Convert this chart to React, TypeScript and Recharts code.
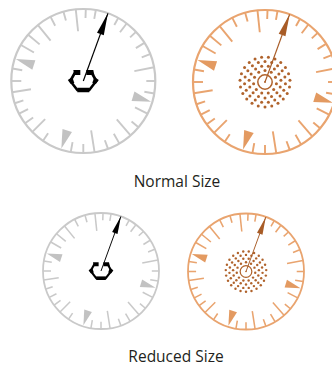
import { ScatterChart, Scatter, XAxis, YAxis } from "recharts";

// dial marks, degrees clockwise from 12 o'clock
const tickAngles = [2, 10, 29, 37, 47, 58, 68, 79, 90, 100, 117, 130, 139, 150, 160, 171, 180, 190, 214, 225, 234, 243, 252, 261, 270, 280, 300, 310, 321, 333, 344, 354];
// tick length in px at normal size
const tickLengths = [9, 9, 8, 11, 8, 10, 9, 20, 9, 10, 14, 9, 21, 11, 9, 22, 9, 10, 9, 18, 10, 10, 9, 19, 10, 10, 15, 15, 20, 10, 9, 22];
const markerAngles = [288, 107, 198];
const needleAngle = 20;
// stipple rings around the orange hub (radius px, dot count)
const dotRadii = [11.5, 16, 20.5, 25];
const dotCounts = [11, 15, 19, 23];
const captions = ["Normal Size", "Reduced Size"];

const W = 332;
const H = 368;

const PALETTE = {
  gray: { ring: "#c9c9c9", marker: "#c2c2c2", needle: "#000000", hub: "#000000" },
  orange: { ring: "#e9a46f", marker: "#e39a61", needle: "#a85c27", hub: "#b0632c" },
};

type Kind = "gray" | "orange";
type Dial = { cx: number; cy: number; r: number; s: number; kind: Kind };

const dials: Dial[] = [
  { cx: 83.3, cy: 81, r: 72, s: 1, kind: "gray" },
  { cx: 265, cy: 82, r: 72, s: 1, kind: "orange" },
  { cx: 101, cy: 271, r: 58, s: 0.8, kind: "gray" },
  { cx: 246, cy: 271.5, r: 58, s: 0.81, kind: "orange" },
];

const rad = (deg: number) => (deg * Math.PI) / 180;
const onDial = (d: Dial, deg: number, dist: number) => ({
  x: d.cx + dist * Math.sin(rad(deg)),
  y: d.cy - dist * Math.cos(rad(deg)),
});

const ringData = dials.map((d) => ({ x: d.cx, y: d.cy, d }));
const tickData = dials.flatMap((d) =>
  tickAngles.map((a, i) => ({ ...onDial(d, a, d.r), angle: a, len: tickLengths[i] * d.s, d }))
);
const markerData = dials.flatMap((d) =>
  markerAngles.map((a) => ({ ...onDial(d, a, d.r - 1), angle: a, d }))
);
const needleData = dials.map((d) => ({ ...onDial(d, needleAngle, d.r), angle: needleAngle, d }));
const hubData = dials.map((d) => ({ x: d.cx, y: d.cy, d }));
const dotData = dials
  .filter((d) => d.kind === "orange")
  .flatMap((d) =>
    dotRadii.flatMap((rr, i) =>
      Array.from({ length: dotCounts[i] }, (_, k) =>
        ({ ...onDial(d, (360 / dotCounts[i]) * (k + (i % 2) * 0.5), rr * d.s), d })
      )
    )
  );
const captionData = [
  { x: 177, y: 187, text: captions[0] },
  { x: 176, y: 362, text: captions[1] },
];

const RingShape = (p: any) => {
  const d: Dial = p.payload.d;
  return (
    <circle cx={p.cx} cy={p.cy} r={d.r} fill="none" stroke={PALETTE[d.kind].ring} strokeWidth={2.2 * d.s} />
  );
};

const TickShape = (p: any) => {
  const { angle, len, d } = p.payload;
  const a = rad(angle);
  return (
    <line
      x1={p.cx}
      y1={p.cy}
      x2={p.cx - len * Math.sin(a)}
      y2={p.cy + len * Math.cos(a)}
      stroke={PALETTE[d.kind as Kind].ring}
      strokeWidth={1.9 * d.s}
    />
  );
};

const MarkerShape = (p: any) => {
  const { angle, d } = p.payload;
  const a = rad(angle);
  const L = 19 * d.s;
  const hw = 5 * d.s;
  const bx = p.cx - L * Math.sin(a);
  const by = p.cy + L * Math.cos(a);
  const px = Math.cos(a) * hw;
  const py = Math.sin(a) * hw;
  return (
    <polygon
      points={`${p.cx},${p.cy} ${bx + px},${by + py} ${bx - px},${by - py}`}
      fill={PALETTE[d.kind as Kind].marker}
    />
  );
};

const NeedleShape = (p: any) => {
  const { angle, d } = p.payload;
  const a = rad(angle);
  const col = PALETTE[d.kind as Kind].needle;
  const L = 22 * d.s;
  const hw = 3.6 * d.s;
  const bx = p.cx - L * Math.sin(a);
  const by = p.cy + L * Math.cos(a);
  const px = Math.cos(a) * hw;
  const py = Math.sin(a) * hw;
  return (
    <g>
      <line x1={p.cx} y1={p.cy} x2={d.cx} y2={d.cy} stroke={col} strokeWidth={1.2 * d.s} />
      <polygon points={`${p.cx},${p.cy} ${bx + px},${by + py} ${bx - px},${by - py}`} fill={col} />
    </g>
  );
};

const HubShape = (p: any) => {
  const d: Dial = p.payload.d;
  const s = d.s;
  const col = PALETTE[d.kind].hub;
  if (d.kind === "orange") {
    return (
      <g>
        <circle cx={p.cx} cy={p.cy} r={7.2 * s} fill="none" stroke={col} strokeWidth={1.5 * s} />
        <circle cx={p.cx} cy={p.cy} r={1 * s} fill={col} />
      </g>
    );
  }
  const pt = (x: number, y: number) => `${p.cx + x * s},${p.cy + y * s}`;
  return (
    <g>
      <polyline
        points={[pt(-8, -9), pt(-13, 0), pt(-6, 9), pt(6, 9), pt(13, 0), pt(8, -9)].join(" ")}
        fill="none"
        stroke={col}
        strokeWidth={2.6 * s}
        strokeLinejoin="miter"
      />
      <line x1={p.cx - 6 * s} y1={p.cy + 9 * s} x2={p.cx + 6 * s} y2={p.cy + 9 * s} stroke={col} strokeWidth={4.5 * s} />
      <polygon points={[pt(-10, -11), pt(-3, -11), pt(-3, -6), pt(-9, -6)].join(" ")} fill={col} />
      <polygon points={[pt(3, -11), pt(10, -11), pt(11, -6), pt(3, -6)].join(" ")} fill={col} />
      <polygon points={[pt(-15.5, -1), pt(-11, -4), pt(-9, 2), pt(-12.5, 3)].join(" ")} fill={col} />
      <polygon points={[pt(15.5, -1), pt(11, -4), pt(9, 2), pt(12.5, 3)].join(" ")} fill={col} />
    </g>
  );
};

const DotShape = (p: any) => {
  const d: Dial = p.payload.d;
  return <circle cx={p.cx} cy={p.cy} r={1.5 * d.s} fill={PALETTE.orange.hub} />;
};

const CaptionShape = (p: any) => (
  <text
    x={p.cx}
    y={p.cy}
    textAnchor="middle"
    fontFamily="'Open Sans', sans-serif"
    fontSize={15.5}
    fill="#231f20"
  >
    {p.payload.text}
  </text>
);

export default function App() {
  return (
    <div style={{ position: "absolute", left: 0, top: 0, width: W, height: H, background: "#fff" }}>
      <ScatterChart width={W} height={H} margin={{ top: 0, right: 0, bottom: 0, left: 0 }}>
        <XAxis type="number" dataKey="x" domain={[0, W]} hide allowDataOverflow />
        <YAxis type="number" dataKey="y" domain={[0, H]} reversed hide allowDataOverflow />
        <Scatter data={ringData} shape={RingShape} isAnimationActive={false} />
        <Scatter data={tickData} shape={TickShape} isAnimationActive={false} />
        <Scatter data={markerData} shape={MarkerShape} isAnimationActive={false} />
        <Scatter data={dotData} shape={DotShape} isAnimationActive={false} />
        <Scatter data={needleData} shape={NeedleShape} isAnimationActive={false} />
        <Scatter data={hubData} shape={HubShape} isAnimationActive={false} />
        <Scatter data={captionData} shape={CaptionShape} isAnimationActive={false} />
      </ScatterChart>
    </div>
  );
}
